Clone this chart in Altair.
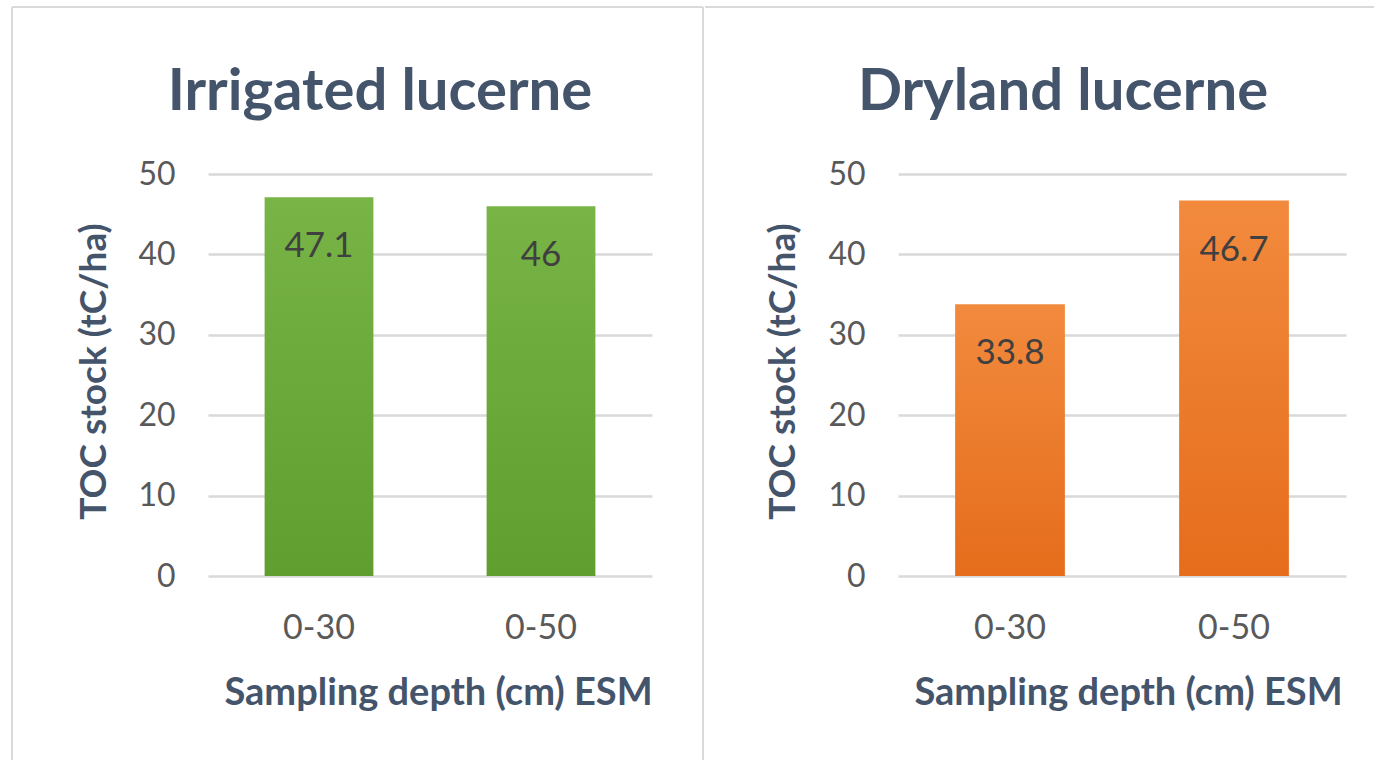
import altair as alt
import pandas as pd

# Sampling depths and TOC stocks (tC/ha) for each lucerne system
depths = ["0-30", "0-50"]
irrigated_toc = [47.1, 46.0]
dryland_toc = [33.8, 46.7]
irrigated_labels = ["47.1", "46"]
dryland_labels = ["33.8", "46.7"]

FONT = "Lato"
TITLE_COLOR = "#44546A"
LABEL_COLOR = "#595959"
GRID_COLOR = "#D9D9D9"
FRAME_COLOR = "#DADADA"

green_fill = alt.Gradient(
    gradient="linear",
    stops=[alt.GradientStop(color="#78B446", offset=0),
           alt.GradientStop(color="#5F9E2F", offset=1)],
    x1=0, x2=0, y1=0, y2=1,
)
orange_fill = alt.Gradient(
    gradient="linear",
    stops=[alt.GradientStop(color="#F28A3D", offset=0),
           alt.GradientStop(color="#E56D1C", offset=1)],
    x1=0, x2=0, y1=0, y2=1,
)


def panel(title, values, labels, fill, width, title_x, frame_left, frame_right,
          y_title_x, x_title_x, left_edge):
    df = pd.DataFrame({"depth": depths, "toc": values, "label": labels})
    x = alt.X(
        "depth:N",
        sort=depths,
        scale=alt.Scale(paddingInner=0.51, paddingOuter=0.255),
        axis=alt.Axis(
            title="Sampling depth (cm) ESM",
            labelAngle=0,
            labelFont=FONT,
            labelFontSize=34,
            labelColor=LABEL_COLOR,
            labelPadding=52,
            labelBaseline="middle",
            titleFont=FONT,
            titleFontSize=38,
            titleFontWeight="bold",
            titleColor=TITLE_COLOR,
            titleX=x_title_x,
            titleY=117,
            titleAlign="center",
            titleBaseline="middle",
            domain=False,
            ticks=False,
        ),
    )
    y = alt.Y(
        "toc:Q",
        scale=alt.Scale(domain=[0, 50], nice=False),
        axis=alt.Axis(
            title="TOC stock (tC/ha)",
            values=[0, 10, 20, 30, 40, 50],
            labelFont=FONT,
            labelFontSize=32,
            labelColor=LABEL_COLOR,
            labelPadding=33,
            titleFont=FONT,
            titleFontSize=37,
            titleFontWeight="bold",
            titleColor=TITLE_COLOR,
            titleX=y_title_x,
            titleY=197,
            titleAngle=-90,
            titleBaseline="middle",
            titleAlign="center",
            grid=True,
            gridColor=GRID_COLOR,
            gridWidth=2.5,
            domain=False,
            ticks=False,
        ),
    )
    base = alt.Chart(df)
    bars = base.mark_bar(color=fill).encode(x=x, y=y)
    text = base.mark_text(
        font=FONT, fontSize=35, color="#404040", baseline="middle", dy=49
    ).encode(x=alt.X("depth:N", sort=depths), y="toc:Q", text="label:N")

    # chart title, drawn inside the panel frame
    heading = alt.Chart(pd.DataFrame({"t": [title]})).mark_text(
        font=FONT, fontSize=58, fontWeight="bold", color=TITLE_COLOR,
        align="center", baseline="alphabetic",
    ).encode(text="t:N", x=alt.value(title_x), y=alt.value(-64))

    # panel frame
    one = pd.DataFrame({"k": [0]})
    top = alt.Chart(one).mark_rule(color=FRAME_COLOR, strokeWidth=2).encode(
        x=alt.value(frame_left), x2=alt.value(frame_right), y=alt.value(-167)
    )
    layers = [top, bars, text, heading]
    if left_edge:
        left = alt.Chart(one).mark_rule(color=FRAME_COLOR, strokeWidth=2).encode(
            x=alt.value(frame_left), y=alt.value(-167), y2=alt.value(586)
        )
        right = alt.Chart(one).mark_rule(color=FRAME_COLOR, strokeWidth=2).encode(
            x=alt.value(frame_right), y=alt.value(-167), y2=alt.value(586)
        )
        layers = [left, right] + layers

    return alt.layer(*layers).properties(width=width, height=402)


left_panel = panel("Irrigated lucerne", irrigated_toc, irrigated_labels, green_fill,
                   444, 172, -196, 495, -114, 230, True)
right_panel = panel("Dryland lucerne", dryland_toc, dryland_labels, orange_fill,
                    448, 165, -193, 476, -115, 230, False)

chart = (
    alt.hconcat(left_panel, right_panel, spacing=0)
    .resolve_scale(x="independent", y="independent")
    .properties(padding={"left": 11, "top": 6, "right": 0, "bottom": 0}, background="white")
    .configure_view(stroke=None)
)

chart.save("out.html", embed_options={"renderer": "svg", "actions": False})
